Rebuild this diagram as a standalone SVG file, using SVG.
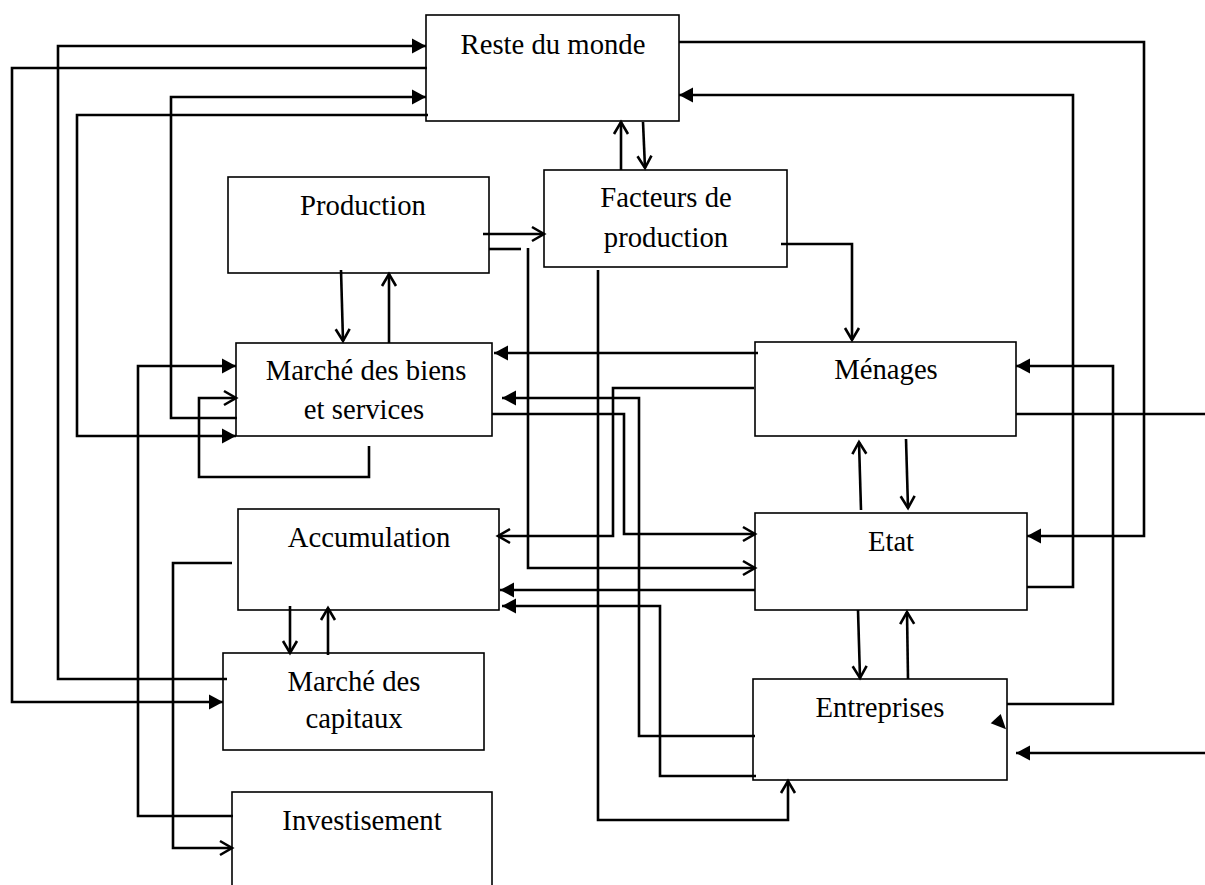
<svg xmlns="http://www.w3.org/2000/svg" width="1205" height="885" viewBox="0 0 1205 885">
<style>
.box{fill:#fff;stroke:#000;stroke-width:1.6}
.lbl{font-family:"Liberation Serif","Times New Roman",serif;font-size:28.7px;fill:#000;text-anchor:middle}
.c{fill:none;stroke:#000;stroke-width:2.6}
.f{marker-end:url(#fa)}
.o{marker-end:url(#oa)}
</style>
<defs>
<marker id="fa" markerUnits="userSpaceOnUse" markerWidth="15" markerHeight="15" refX="14" refY="7.5" orient="auto" overflow="visible">
<path d="M0,0 L14,7.5 L0,15 Z" fill="#000"/>
</marker>
<marker id="oa" markerUnits="userSpaceOnUse" markerWidth="15" markerHeight="15" refX="13" refY="7.5" orient="auto" overflow="visible">
<path d="M1,0.5 L13,7.5 L1,14.5" fill="none" stroke="#000" stroke-width="2.6"/>
</marker>
</defs>
<rect width="1205" height="885" fill="#fff"/>
<g id="nodes">
<g id="reste-du-monde"><rect class="box" x="426" y="15" width="253" height="106"/><text class="lbl" x="553" y="54">Reste du monde</text></g>
<g id="production"><rect class="box" x="228" y="177" width="261" height="96"/><text class="lbl" x="363" y="215">Production</text></g>
<g id="facteurs"><rect class="box" x="544" y="170" width="243" height="97"/><text class="lbl" x="666" y="207">Facteurs de</text><text class="lbl" x="666" y="247">production</text></g>
<g id="marche-biens"><rect class="box" x="236" y="343" width="256" height="93"/><text class="lbl" x="366" y="380">Marché des biens</text><text class="lbl" x="364" y="419">et services</text></g>
<g id="menages"><rect class="box" x="755" y="342" width="261" height="94"/><text class="lbl" x="886" y="379">Ménages</text></g>
<g id="accumulation"><rect class="box" x="238" y="509" width="261" height="101"/><text class="lbl" x="369" y="547">Accumulation</text></g>
<g id="etat"><rect class="box" x="755" y="513" width="272" height="97"/><text class="lbl" x="891" y="551">Etat</text></g>
<g id="marche-capitaux"><rect class="box" x="223" y="653" width="261" height="97"/><text class="lbl" x="354" y="691">Marché des</text><text class="lbl" x="354" y="728">capitaux</text></g>
<g id="entreprises"><rect class="box" x="753" y="679" width="254" height="101"/><text class="lbl" x="880" y="717">Entreprises</text></g>
<g id="investisement"><rect class="box" x="232" y="792" width="260" height="110"/><text class="lbl" x="362" y="830">Investisement</text></g>
</g>
<g id="connectors">
<path class="c f" d="M227,679 H58 V46 H426"/>
<path class="c f" d="M427,68 H12 V702 H223"/>
<path class="c f" d="M237,418 H171 V97 H426"/>
<path class="c f" d="M428,115 H77 V436 H236"/>
<path class="c f" d="M233,816 H138 V366 H236"/>
<path class="c o" d="M369,446 V477 H199 V398 H236"/>
<path class="c o" d="M232,563 H173 V848 H232"/>
<path class="c o" d="M341,270 L343,341"/>
<path class="c o" d="M389,343 V274"/>
<path class="c o" d="M483,234 H544"/>
<path class="c" d="M489,249 H521"/>
<path class="c o" d="M528,248 V568 H755"/>
<path class="c o" d="M598,270 V820 H788 V781"/>
<path class="c o" d="M781,244 H852 V340"/>
<path class="c o" d="M621,170 V122"/>
<path class="c o" d="M643,122 L645,168"/>
<path class="c f" d="M679,42 H1144 V536 H1027"/>
<path class="c f" d="M1027,587 H1073 V95 H679"/>
<path class="c f" d="M1007,704 H1113 V366 H1016"/>
<path class="c" d="M1016,414 H1205"/>
<path class="c f" d="M1205,753 H1016"/>
<polygon points="990.7,723.3 1000.7,714 1006,729.3" fill="#000"/>
<path class="c f" d="M758,353 H494"/>
<path class="c o" d="M754,388 H613 V536 H498"/>
<path class="c f" d="M755,736 H639 V398 H502"/>
<path class="c o" d="M492,414 H624 V534 H755"/>
<path class="c f" d="M755,590 H500"/>
<path class="c f" d="M756,776 H660 V606 H502"/>
<path class="c o" d="M861,510 L859,442"/>
<path class="c o" d="M906,439 L908,508"/>
<path class="c o" d="M858,610 L860,678"/>
<path class="c o" d="M908,679 L907,612"/>
<path class="c o" d="M290,606 V653"/>
<path class="c o" d="M328,655 V608"/>
</g>
</svg>
